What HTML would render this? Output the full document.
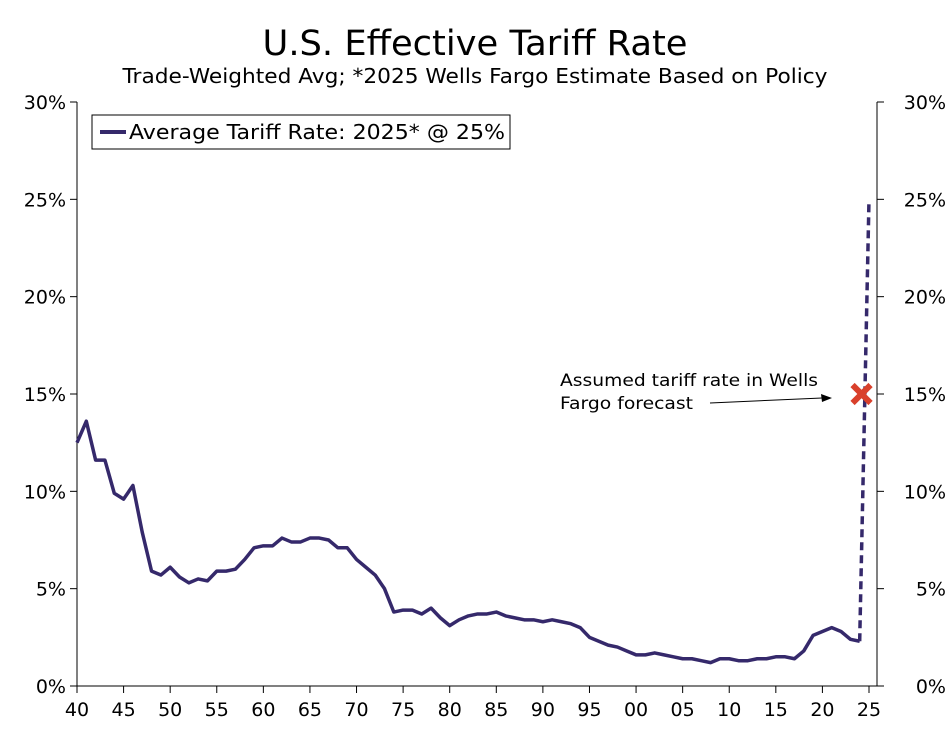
<!DOCTYPE html>
<html><head><meta charset="utf-8"><style>
body{margin:0;background:#fff;font-family:"Liberation Sans","DejaVu Sans",sans-serif}
svg text{font-family:"DejaVu Sans","Liberation Sans",sans-serif;fill:#000}
</style></head><body>
<svg id="chart" width="950" height="728" xmlns="http://www.w3.org/2000/svg">
<text x="475" y="55" font-size="35" text-anchor="middle" textLength="425" lengthAdjust="spacingAndGlyphs">U.S. Effective Tariff Rate</text>
<text x="475" y="83" font-size="20" text-anchor="middle" textLength="705" lengthAdjust="spacingAndGlyphs">Trade-Weighted Avg; *2025 Wells Fargo Estimate Based on Policy</text>
<g id="axes"></g>
<g id="series"></g>
<g>
<rect x="92" y="115" width="418" height="34" fill="#fff" stroke="#000" stroke-width="1"/>
<line x1="100" y1="132" x2="126" y2="132" stroke="#35296b" stroke-width="4"/>
<text x="129" y="139" font-size="20" textLength="376" lengthAdjust="spacingAndGlyphs">Average Tariff Rate: 2025* @ 25%</text>
</g>
<g>
<text x="560" y="386" font-size="17" textLength="258" lengthAdjust="spacingAndGlyphs">Assumed tariff rate in Wells</text>
<text x="560" y="409" font-size="17" textLength="133" lengthAdjust="spacingAndGlyphs">Fargo forecast</text>
<line x1="710" y1="403" x2="822" y2="398" stroke="#000" stroke-width="1"/>
<polygon points="832,398 821,394 822,402" fill="#000"/>
</g>
</svg>
<script>
const years=[];for(let y=1940;y<=2024;y++)years.push(y);
const rates=[12.5,13.6,11.6,11.6,9.9,9.6,10.3,7.9,5.9,5.7,6.1,5.6,5.3,5.5,5.4,5.9,5.9,6.0,6.5,7.1,7.2,7.2,7.6,7.4,7.4,7.6,7.6,7.5,7.1,7.1,6.5,6.1,5.7,5.0,3.8,3.9,3.9,3.7,4.0,3.5,3.1,3.4,3.6,3.7,3.7,3.8,3.6,3.5,3.4,3.4,3.3,3.4,3.3,3.2,3.0,2.5,2.3,2.1,2.0,1.8,1.6,1.6,1.7,1.6,1.5,1.4,1.4,1.3,1.2,1.4,1.4,1.3,1.3,1.4,1.4,1.5,1.5,1.4,1.8,2.6,2.8,3.0,2.8,2.4,2.3];
const forecastYear=2025, forecastRate=25.0;
const markerYear=2024.2, markerRate=15.0;
const yTicks=[0,5,10,15,20,25,30];
const xTickYears=[1940,1945,1950,1955,1960,1965,1970,1975,1980,1985,1990,1995,2000,2005,2010,2015,2020,2025];
const X=y=>77+(y-1940)*(792/85);
const Y=v=>686-v*(584/30);
const NS="http://www.w3.org/2000/svg";
const ax=document.getElementById('axes'),se=document.getElementById('series');
function mk(tag,at,p){const e=document.createElementNS(NS,tag);for(const k in at)e.setAttribute(k,at[k]);p.appendChild(e);return e;}
let l=mk('line',{x1:77,y1:102,x2:77,y2:686,stroke:'#000'},ax);

l=mk('line',{x1:877,y1:102,x2:877,y2:686,stroke:'#000'},ax);

l=mk('line',{x1:77,y1:686,x2:877,y2:686,stroke:'#000'},ax);

yTicks.forEach(v=>{
 mk('line',{x1:70,y1:Y(v),x2:77,y2:Y(v),stroke:'#000'},ax);
 mk('line',{x1:877,y1:Y(v),x2:884,y2:Y(v),stroke:'#000'},ax);
 let t=mk('text',{x:66,y:Y(v)+7,'font-size':19,'text-anchor':'end'},ax);t.textContent=v+'%';
 
 t=mk('text',{x:946,y:Y(v)+7,'font-size':19,'text-anchor':'end'},ax);t.textContent=v+'%';
 
});
xTickYears.forEach(y=>{
 mk('line',{x1:X(y),y1:686,x2:X(y),y2:693,stroke:'#000'},ax);
 const t=mk('text',{x:X(y),y:716,'font-size':19,'text-anchor':'middle'},ax);
 t.textContent=String(y%100).padStart(2,'0');
 
});
const p=mk('polyline',{points:years.map((y,i)=>X(y)+','+Y(rates[i])).join(' '),fill:'none',stroke:'#35296b','stroke-width':3.5,'stroke-linejoin':'round'},se);

const last=years.length-1;
const d=mk('line',{x1:X(years[last]),y1:Y(rates[last]),x2:X(forecastYear),y2:Y(forecastRate),stroke:'#35296b','stroke-width':3.5,'stroke-dasharray':'8,5'},se);

const mx=X(markerYear),my=Y(markerRate);
const g=mk('g',{},se);

mk('line',{x1:mx-9,y1:my-9,x2:mx+9,y2:my+9,stroke:'#d9402b','stroke-width':6},g);
mk('line',{x1:mx-9,y1:my+9,x2:mx+9,y2:my-9,stroke:'#d9402b','stroke-width':6},g);
</script>
</body></html>
